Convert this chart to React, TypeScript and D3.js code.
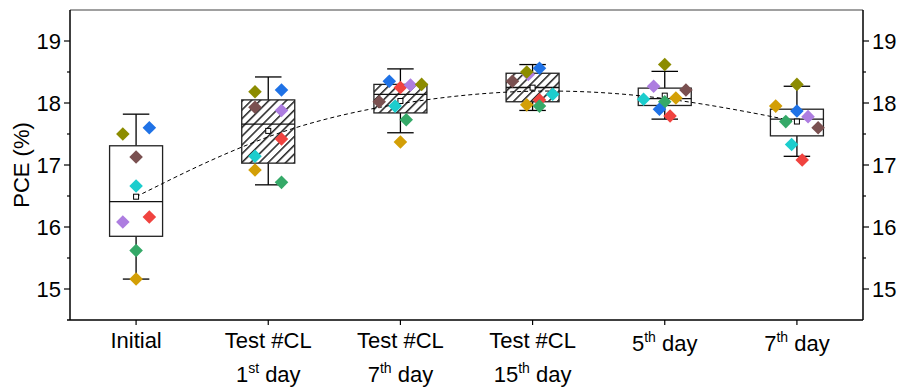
import React, { useEffect, useRef } from 'react'
import * as d3 from 'd3'

// categories: [first line, superscript-split second part]
const categories = ['Initial', 'CL1', 'CL7', 'CL15', 'D5', 'D7']
const labelLines = [
  [['Initial', '', '']],
  [['Test #CL', '', ''], ['1', 'st', ' day']],
  [['Test #CL', '', ''], ['7', 'th', ' day']],
  [['Test #CL', '', ''], ['15', 'th', ' day']],
  [['5', 'th', ' day']],
  [['7', 'th', ' day']],
]

// box statistics
const whiskerHigh = [17.82, 18.42, 18.55, 18.62, 18.51, 18.27]
const q3 = [17.31, 18.05, 18.3, 18.48, 18.24, 17.9]
const median = [16.41, 17.66, 18.14, 18.25, 18.07, 17.74]
const q1 = [15.85, 17.03, 17.84, 18.02, 17.96, 17.47]
const whiskerLow = [15.16, 16.68, 17.52, 17.88, 17.74, 17.14]
const hatched = [false, true, true, true, false, false]

// individual devices (one colour each), PCE per category
const red = [16.16, 17.42, 18.25, 18.05, 17.79, 17.08]
const purple = [16.08, 17.88, 18.29, 18.46, 18.27, 17.78]
const green = [15.62, 16.72, 17.73, 17.95, 18.02, 17.7]
const blue = [17.6, 18.21, 18.35, 18.56, 17.9, 17.87]
const cyan = [16.66, 17.14, 17.95, 18.14, 18.06, 17.33]
const gold = [15.16, 16.92, 17.37, 17.97, 18.08, 17.95]
const brown = [17.13, 17.93, 18.02, 18.35, 18.21, 17.6]
const olive = [17.5, 18.18, 18.3, 18.5, 18.62, 18.3]

// horizontal jitter of each device, as a fraction of the box width
const jRed = [0.25, 0.25, 0, 0.13, 0.1, 0.1]
const jPurple = [-0.25, 0.25, 0.19, -0.08, -0.21, 0.21]
const jGreen = [0, 0.25, 0.11, 0.13, 0, -0.21]
const jBlue = [0.25, 0.25, -0.21, 0.13, -0.1, 0]
const jCyan = [0, -0.25, -0.1, 0.38, -0.4, -0.1]
const jGold = [0, -0.25, 0, -0.11, 0.21, -0.4]
const jBrown = [0, -0.25, -0.4, -0.38, 0.4, 0.4]
const jOlive = [-0.25, -0.25, 0.4, -0.11, 0, 0]

const devices = [
  { name: 'red', values: red, jitter: jRed, color: '#f0433f' },
  { name: 'purple', values: purple, jitter: jPurple, color: '#ad7de0' },
  { name: 'green', values: green, jitter: jGreen, color: '#35a968' },
  { name: 'blue', values: blue, jitter: jBlue, color: '#1f72e6' },
  { name: 'cyan', values: cyan, jitter: jCyan, color: '#1ccdcd' },
  { name: 'gold', values: gold, jitter: jGold, color: '#d39f06' },
  { name: 'brown', values: brown, jitter: jBrown, color: '#7a5050' },
  { name: 'olive', values: olive, jitter: jOlive, color: '#8c8c00' },
]

const yTicks = [15, 16, 17, 18, 19]
const yMinor = [15.5, 16.5, 17.5, 18.5]

const App = () => {
  const ref = useRef<SVGSVGElement>(null)

  useEffect(() => {
    const W = 898
    const H = 387
    const left = 70
    const right = 863
    const top = 10
    const bottom = 320
    const font = 'Arial, "Liberation Sans", sans-serif'

    const svg = d3.select(ref.current)
    svg.selectAll('*').remove()
    svg.attr('width', W).attr('height', H)

    const x = d3.scalePoint().domain(categories).range([left, right]).padding(0.5)
    const y = d3.scaleLinear().domain([14.5, 19.5]).range([bottom, top])
    const boxW = 53

    const defs = svg.append('defs')
    const pat = defs
      .append('pattern')
      .attr('id', 'hatch')
      .attr('patternUnits', 'userSpaceOnUse')
      .attr('width', 6.2)
      .attr('height', 6.2)
      .attr('patternTransform', 'rotate(45)')
    pat.append('rect').attr('width', 6.2).attr('height', 6.2).attr('fill', '#fff')
    pat.append('line').attr('x1', 0.8).attr('y1', 0).attr('x2', 0.8).attr('y2', 6.2)
      .attr('stroke', '#000').attr('stroke-width', 1.3)

    // boxes
    const g = svg.append('g')
    categories.forEach((c, i) => {
      const cx = x(c) as number
      g.append('line').attr('x1', cx).attr('x2', cx)
        .attr('y1', y(whiskerHigh[i])).attr('y2', y(q3[i]))
        .attr('stroke', '#000').attr('stroke-width', 1.3)
      g.append('line').attr('x1', cx).attr('x2', cx)
        .attr('y1', y(q1[i])).attr('y2', y(whiskerLow[i]))
        .attr('stroke', '#000').attr('stroke-width', 1.3)
      ;[whiskerHigh[i], whiskerLow[i]].forEach((v) => {
        g.append('line').attr('x1', cx - boxW / 4).attr('x2', cx + boxW / 4)
          .attr('y1', y(v)).attr('y2', y(v))
          .attr('stroke', '#000').attr('stroke-width', 1.3)
      })
      g.append('rect')
        .attr('x', cx - boxW / 2).attr('width', boxW)
        .attr('y', y(q3[i])).attr('height', y(q1[i]) - y(q3[i]))
        .attr('fill', hatched[i] ? 'url(#hatch)' : '#fff')
        .attr('stroke', '#222').attr('stroke-width', 1.3)
      g.append('line').attr('x1', cx - boxW / 2).attr('x2', cx + boxW / 2)
        .attr('y1', y(median[i])).attr('y2', y(median[i]))
        .attr('stroke', '#111').attr('stroke-width', 1.3)
    })

    // means
    const means = categories.map((c, i) => d3.mean(devices, (d) => d.values[i]) as number)
    const line = d3.line<number>()
      .x((_, i) => x(categories[i]) as number)
      .y((d) => y(d))
      .curve(d3.curveBasis)
    svg.append('path').attr('d', line(means)).attr('fill', 'none')
      .attr('stroke', '#000').attr('stroke-width', 1).attr('stroke-dasharray', '4,3')
    means.forEach((m, i) => {
      svg.append('rect').attr('x', (x(categories[i]) as number) - 2.5).attr('y', y(m) - 2.5)
        .attr('width', 5).attr('height', 5).attr('fill', '#fff')
        .attr('stroke', '#000').attr('stroke-width', 1)
    })

    // device points
    const diamond = d3.symbol().type(d3.symbolSquare).size(92)
    devices.forEach((d) => {
      d.values.forEach((v, i) => {
        const px = (x(categories[i]) as number) + d.jitter[i] * boxW
        svg.append('path').attr('d', diamond())
          .attr('transform', `translate(${px},${y(v)}) rotate(45)`)
          .attr('fill', d.color)
      })
    })

    // frame & axes
    svg.append('line').attr('x1', left).attr('x2', right).attr('y1', top).attr('y2', top)
      .attr('stroke', '#808080').attr('stroke-width', 1.6)
    svg.append('line').attr('x1', left).attr('x2', left).attr('y1', top).attr('y2', bottom)
      .attr('stroke', '#000').attr('stroke-width', 1.5)
    svg.append('line').attr('x1', right).attr('x2', right).attr('y1', top).attr('y2', bottom)
      .attr('stroke', '#000').attr('stroke-width', 1.5)
    svg.append('line').attr('x1', left - 3).attr('x2', right).attr('y1', bottom).attr('y2', bottom)
      .attr('stroke', '#000').attr('stroke-width', 1.5)

    yTicks.forEach((t) => {
      svg.append('line').attr('x1', left - 6).attr('x2', left).attr('y1', y(t)).attr('y2', y(t))
        .attr('stroke', '#000').attr('stroke-width', 1.2)
      svg.append('line').attr('x1', right).attr('x2', right + 6).attr('y1', y(t)).attr('y2', y(t))
        .attr('stroke', '#000').attr('stroke-width', 1.2)
      svg.append('text').attr('x', left - 9).attr('y', y(t) + 8)
        .attr('text-anchor', 'end').attr('font-family', font).attr('font-size', 22).text(t)
      svg.append('text').attr('x', right + 9).attr('y', y(t) + 8)
        .attr('text-anchor', 'start').attr('font-family', font).attr('font-size', 22).text(t)
    })
    yMinor.forEach((t) => {
      svg.append('line').attr('x1', left - 3).attr('x2', left).attr('y1', y(t)).attr('y2', y(t))
        .attr('stroke', '#000').attr('stroke-width', 1.2)
      svg.append('line').attr('x1', right).attr('x2', right + 3).attr('y1', y(t)).attr('y2', y(t))
        .attr('stroke', '#000').attr('stroke-width', 1.2)
    })

    svg.append('text')
      .attr('transform', 'translate(29,165) rotate(-90)')
      .attr('text-anchor', 'middle').attr('font-family', font).attr('font-size', 22)
      .text('PCE (%)')

    categories.forEach((c, i) => {
      const cx = x(c) as number
      svg.append('line').attr('x1', cx).attr('x2', cx).attr('y1', bottom).attr('y2', bottom + 5)
        .attr('stroke', '#000').attr('stroke-width', 1.2)
      const lines = labelLines[i]
      lines.forEach((ln, k) => {
        const hasSup = ln[1] !== ''
        const base = lines.length === 1 && hasSup ? 351 : 348 + k * 34
        const t = svg.append('text').attr('x', cx).attr('y', base)
          .attr('text-anchor', 'middle').attr('font-family', font).attr('font-size', 22)
        t.append('tspan').text(ln[0])
        if (hasSup) {
          t.append('tspan').attr('font-size', 14).attr('dy', -9).text(ln[1])
          t.append('tspan').attr('dy', 9).text(ln[2])
        }
      })
    })
  }, [])

  return (
    <svg ref={ref} style={{ position: 'fixed', left: 0, top: 0, background: '#fff' }} />
  )
}

export default App
